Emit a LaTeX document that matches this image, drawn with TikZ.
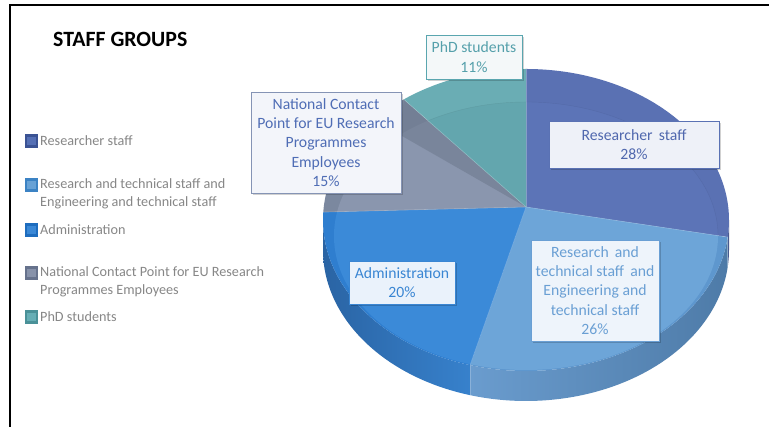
\documentclass[tikz,border=0pt]{standalone}
\usepackage{fontspec}
\setmainfont{Carlito}
\usetikzlibrary{calc,shadows}
\definecolor{resRing}{HTML}{5A71B3}
\definecolor{resIn}{HTML}{5C74B7}
\definecolor{rtRing}{HTML}{5E97CE}
\definecolor{rtIn}{HTML}{6DA5D8}
\definecolor{admRing}{HTML}{2F7ECF}
\definecolor{admIn}{HTML}{3B8AD8}
\definecolor{ncpRing}{HTML}{7B889F}
\definecolor{ncpIn}{HTML}{8A96AE}
\definecolor{phdRing}{HTML}{6AADB4}
\definecolor{phdIn}{HTML}{63A6AE}
\definecolor{admSideL}{HTML}{2A64A4}
\definecolor{admSideR}{HTML}{3781CC}
\definecolor{rtSideL}{HTML}{6A9CCE}
\definecolor{rtSideR}{HTML}{4E7BA8}
\definecolor{resSide}{HTML}{4A5D96}
\definecolor{legtext}{HTML}{878787}
% label colours
\definecolor{phdD}{HTML}{5AA6AF}\definecolor{phdF}{HTML}{F4F8F9}\definecolor{phdT}{HTML}{55A0AB}
\definecolor{ncpD}{HTML}{8594B5}\definecolor{ncpF}{HTML}{F3F5FA}\definecolor{ncpT}{HTML}{4F6DB5}
\definecolor{resD}{HTML}{5A72B4}\definecolor{resF}{HTML}{EEF1F8}\definecolor{resT}{HTML}{5068AE}
\definecolor{admD}{HTML}{3A86D3}\definecolor{admF}{HTML}{EAF2FB}\definecolor{admT}{HTML}{3A86D3}
\definecolor{rtD}{HTML}{6A9FD4}\definecolor{rtF}{HTML}{EEF4FB}\definecolor{rtT}{HTML}{6A9FD4}
% legend key colours
\definecolor{k1o}{HTML}{3B5394}\definecolor{k1i}{HTML}{5570B5}
\definecolor{k2o}{HTML}{3C83C4}\definecolor{k2i}{HTML}{68A2D6}
\definecolor{k3o}{HTML}{1E6DBE}\definecolor{k3i}{HTML}{3A88D6}
\definecolor{k4o}{HTML}{66728C}\definecolor{k4i}{HTML}{8792AA}
\definecolor{k5o}{HTML}{4A9198}\definecolor{k5i}{HTML}{66AEB5}
\begin{document}
\begin{tikzpicture}[x=1pt,y=1pt,
  lbl/.style={draw, line width=0.8pt, align=center, inner sep=0pt,
    font=\fontsize{15.7}{19.3}\selectfont,
    drop shadow={shadow xshift=2pt, shadow yshift=-2pt, opacity=0.18, fill=black}},
  legtxt/.style={anchor=west, align=left, inner sep=0pt, text=legtext,
    font=\fontsize{14.2}{17.7}\selectfont},
  legbox/.style={minimum size=11pt, inner sep=0pt, line width=2.5pt},
  edge/.style={draw=white, draw opacity=0.25, line width=0.6pt}]
\useasboundingbox (0,0) rectangle (769,427);
\fill[white] (0,0) rectangle (769,427);
% frame
\draw[line width=2pt] (10,0) -- (10,422) -- (769,422);
% title
\node[anchor=west, inner sep=0pt, font=\fontsize{21.8}{24}\selectfont\bfseries] (title) at (53,387.5) {STAFF GROUPS};
% pie geometry
\coordinate (C) at (526,207);
\coordinate (A) at (526,220);
\coordinate (Ci) at (526,191);
% side faces
\shade[left color=resSide, right color=resSide!80!black]
  ($(C)+(0:203pt and 151pt)$) arc[start angle=0, end angle=-6.5, x radius=203pt, y radius=151pt]
  -- ++(0,-30) arc[start angle=-6.5, end angle=0, x radius=203pt, y radius=151pt] -- cycle;
\shade[left color=rtSideL, right color=rtSideR]
  ($(C)+(-6.5:203pt and 151pt)$) arc[start angle=-6.5, end angle=-106, x radius=203pt, y radius=151pt]
  -- ++(0,-30) arc[start angle=-106, end angle=-6.5, x radius=203pt, y radius=151pt] -- cycle;
\shade[left color=admSideL, right color=admSideR]
  ($(C)+(-106:203pt and 151pt)$) arc[start angle=-106, end angle=-180, x radius=203pt, y radius=151pt]
  -- ++(0,-30) arc[start angle=-180, end angle=-106, x radius=203pt, y radius=151pt] -- cycle;
\draw[white, opacity=0.25, line width=0.6pt] ($(C)+(-106:203pt and 151pt)$) -- ++(0,-30);
% top faces
\begin{scope}
\clip (A) -- ($(C)+(90:203pt and 151pt)$) arc[start angle=90, end angle=-6.5, x radius=203pt, y radius=151pt] -- cycle;
\fill[resRing] (0,0) rectangle (769,427);
\fill[resIn] (Ci) ellipse[x radius=192pt, y radius=134pt];
\draw[resRing!85!black, opacity=0.4] (Ci) ellipse[x radius=192pt, y radius=134pt];
\end{scope}
\begin{scope}
\clip (A) -- ($(C)+(-6.5:203pt and 151pt)$) arc[start angle=-6.5, end angle=-106, x radius=203pt, y radius=151pt] -- cycle;
\fill[rtRing] (0,0) rectangle (769,427);
\fill[rtIn] (Ci) ellipse[x radius=192pt, y radius=134pt];
\end{scope}
\begin{scope}
\clip (A) -- ($(C)+(-106:203pt and 151pt)$) arc[start angle=-106, end angle=-183, x radius=203pt, y radius=151pt] -- cycle;
\fill[admRing] (0,0) rectangle (769,427);
\fill[admIn] (Ci) ellipse[x radius=192pt, y radius=134pt];
\end{scope}
\begin{scope}
\clip (A) -- ($(C)+(177:203pt and 151pt)$) arc[start angle=177, end angle=127, x radius=203pt, y radius=151pt] -- cycle;
\fill[ncpRing] (0,0) rectangle (769,427);
\fill[ncpIn] (Ci) ellipse[x radius=192pt, y radius=134pt];
\fill[ncpRing!90!black, opacity=0.6] (A) -- ($(C)+(127:203pt and 151pt)$) -- ($(Ci)+(131:192pt and 134pt)$) -- cycle;
\end{scope}
\begin{scope}
\clip (A) -- ($(C)+(127:203pt and 151pt)$) arc[start angle=127, end angle=90, x radius=203pt, y radius=151pt] -- cycle;
\fill[phdRing] (0,0) rectangle (769,427);
\fill[phdIn] (Ci) ellipse[x radius=192pt, y radius=134pt];
\draw[phdRing!80!black, opacity=0.4] (Ci) ellipse[x radius=192pt, y radius=134pt];
\end{scope}
% slice edges
\draw[edge] (A) -- ($(C)+(90:203pt and 151pt)$);
\draw[edge] (A) -- ($(C)+(-6.5:203pt and 151pt)$);
\draw[edge] (A) -- ($(C)+(-106:203pt and 151pt)$);
\draw[edge] (A) -- ($(C)+(177:203pt and 151pt)$);
\draw[edge] (A) -- ($(C)+(127:203pt and 151pt)$);
% data labels
\node[lbl, draw=phdD, fill=phdF, text=phdT, minimum width=96pt, minimum height=44pt]
  (lphd) at (474,370) {PhD students\\11\%};
\node[lbl, draw=ncpD, fill=ncpF, text=ncpT, minimum width=150pt, minimum height=101pt]
  (lncp) at (326,284.5) {National Contact\\Point for EU Research\\Programmes\\Employees\\15\%};
\node[lbl, draw=resD, fill=resF, text=resT, minimum width=170pt, minimum height=47pt]
  (lres) at (634,282.5) {Researcher\, staff\\28\%};
\node[lbl, draw=admD, fill=admF, text=admT, minimum width=106pt, minimum height=43pt]
  (ladm) at (402,144.5) {Administration\\20\%};
\node[lbl, draw=rtD, fill=rtF, text=rtT, minimum width=128pt, minimum height=101pt]
  (lrt) at (595,136.5) {Research\, and\\technical staff\, and\\Engineering and\\technical staff\\26\%};
% legend
\node[legbox, draw=k1o, fill=k1i] (k1) at (31.5,286) {};
\node[legbox, draw=k2o, fill=k2i] (k2) at (31.5,242) {};
\node[legbox, draw=k3o, fill=k3i] (k3) at (31.5,197) {};
\node[legbox, draw=k4o, fill=k4i] (k4) at (31.5,154) {};
\node[legbox, draw=k5o, fill=k5i] (k5) at (31.5,110) {};
\node[legtxt] (t1) at (40,286) {Researcher staff};
\node[legtxt] (t2) at (40,233) {Research and technical staff and\\Engineering and technical staff};
\node[legtxt] (t3) at (40,197) {Administration};
\node[legtxt] (t4) at (40,145) {National Contact Point for EU Research\\Programmes Employees};
\node[legtxt] (t5) at (40,110) {PhD students};
\end{tikzpicture}
\end{document}
